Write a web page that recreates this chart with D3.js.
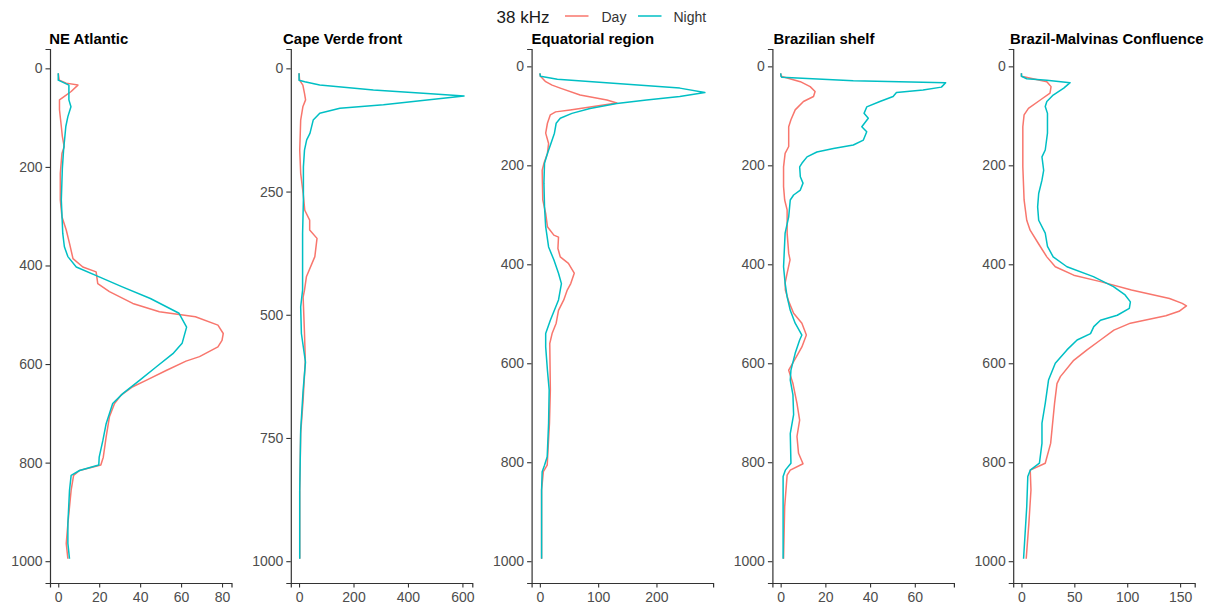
<!DOCTYPE html>
<html>
<head>
<meta charset="utf-8">
<script src="https://cdn.jsdelivr.net/npm/d3@7"></script>
<style>
  body { margin: 0; background: #fff; }
  text { font-family: "Liberation Sans", Arial, sans-serif; }
</style>
</head>
<body>
<div id="graph"></div>
<script>
// panel names, in order
var regions = ["NE Atlantic", "Cape Verde front", "Equatorial region", "Brazilian shelf", "Brazil-Malvinas Confluence"];

// tick labels for each panel
var xTicks = [[0, 20, 40, 60, 80], [0, 200, 400, 600], [0, 100, 200], [0, 20, 40, 60], [0, 50, 100, 150]];
var yTicks = [
  [0, 200, 400, 600, 800, 1000],
  [0, 250, 500, 750, 1000],
  [0, 200, 400, 600, 800, 1000],
  [0, 200, 400, 600, 800, 1000],
  [0, 200, 400, 600, 800, 1000]
];

// profiles as [depth, value]
var neAtlanticDay = [[10,0],[24,0.5],[30,3.9],[34,9.6],[47,6.3],[57,3],[64,0.6],[84,0.6],[118,1.5],[138,2],[159,2.9],[173,1.8],[213,1],[267,1],[301,1.8],[328,3.9],[355,5.5],[386,7.2],[403,12],[413,18.5],[437,19.3],[453,25],[477,36.4],[494,49.4],[504,67],[521,78],[538,80.6],[552,80],[565,78],[585,69],[594,62.4],[613,52.7],[633,42.9],[646,36.4],[663,30.7],[680,27.5],[707,25],[748,23.4],[789,22],[805,20.8],[816,10.4],[826,7.5],[856,6.3],[924,4.7],[964,3.9],[995,4.7]];
var neAtlanticNight = [[10,0],[24,0],[34,5.2],[64,5.2],[78,6.2],[98,4.7],[118,3.7],[166,2.6],[203,2],[267,1.5],[335,2.2],[362,3],[382,4.7],[403,8.8],[423,20],[443,31],[467,45],[497,59],[525,62.7],[558,60.5],[579,56],[606,47.8],[633,39.7],[660,31.5],[680,26.6],[721,23.4],[755,21.8],[789,20],[805,19.8],[816,10.4],[826,6.3],[856,5.5],[924,4.7],[964,4.7],[995,5.5]];

var capeVerdeDay = [[10,0],[24,2],[34,14],[51,20],[64,24],[78,14],[105,6],[166,2.5],[213,6],[253,15],[288,21],[308,39],[328,39],[345,66],[382,58],[423,27],[450,20],[464,15],[538,20],[592,23],[673,15],[741,6],[856,2.5],[995,2.5]];
var capeVerdeNight = [[10,0],[24,0],[27,21],[34,76],[44,273],[51,470],[56,606],[64,470],[74,310],[81,150],[91,76],[105,52],[132,40],[145,28],[166,20],[200,16],[267,16],[335,13],[450,13],[484,6],[538,8.6],[596,23.6],[653,15],[734,6],[856,2.5],[995,2.5]];

var equatorialDay = [[14,0],[20,1],[31,10],[38,21],[44,35],[58,69],[68,115],[74,132],[81,92],[88,52],[92,27],[98,18],[115,13],[135,10],[156,15],[176,13],[196,7],[210,4],[270,5],[297,10],[324,13],[341,24],[345,32],[368,31],[385,35],[398,49],[418,59],[439,53],[452,47],[472,41],[493,32],[519,28],[540,21],[560,17],[654,18],[721,16.5],[806,12.6],[819,6],[856,3],[995,3]];
var equatorialNight = [[14,0],[20,1],[26,30],[34,126],[44,240],[53,283],[61,240],[68,183],[75,132],[85,86],[95,55],[105,35],[115,28],[135,25],[156,19],[176,13],[196,8],[236,7],[284,8],[324,10],[365,15],[391,24],[418,32],[439,37],[452,35],[472,32],[513,18],[540,10],[567,10],[614,13],[654,16],[721,15],[789,12.6],[806,8],[819,4],[856,3],[995,3]];

var brShelfDay = [[14,0],[20,0.2],[31,8.8],[41,13.2],[51,15.4],[61,14.7],[71,10.2],[88,6.5],[108,4.6],[122,3.6],[142,3.6],[162,3.6],[176,2],[203,1.3],[243,1.3],[270,1.8],[290,2.9],[337,2.9],[378,3.6],[391,4.2],[418,2.9],[438,2],[452,2.1],[475,3.6],[499,5.8],[519,9.5],[543,11.5],[567,9.5],[587,7],[614,3.6],[641,5.5],[681,7.3],[715,8.5],[748,7.3],[782,8],[803,10],[816,4.3],[826,2.9],[890,1.8],[995,1.3]];
var brShelfNight = [[14,0],[20,0.2],[22,0.5],[29,32.5],[33,73.8],[42,71.9],[48,63.7],[53,51.8],[61,50.3],[71,44.4],[82,38.5],[95,37.3],[105,39.2],[122,36.3],[132,38.5],[149,37],[159,32.5],[166,23.6],[173,16.2],[183,11.8],[196,9.5],[203,8.5],[223,8.8],[236,10],[250,8.8],[260,5.8],[270,4.3],[304,3.6],[337,2],[405,1.3],[438,2],[466,2.9],[493,4.3],[519,6.5],[543,9.5],[553,8.5],[580,6.5],[614,4.6],[634,4.3],[664,5.5],[704,5.8],[742,4.3],[802,4.6],[816,2.1],[829,1.1],[995,1.1]];

var bmcDay = [[14,0],[20,0],[31,24],[41,28],[54,27],[68,17.8],[85,6.6],[98,2.5],[122,1.3],[203,1.3],[270,2.5],[311,5],[331,8.2],[358,16],[385,24],[405,32],[422,49.4],[435,74.7],[452,104],[469,140],[479,152],[484,156],[495,149],[504,136.5],[519,103],[533,87.4],[553,74.7],[573,62],[594,49.4],[627,36.8],[641,33.6],[681,31.3],[762,27.6],[802,22.5],[816,8.3],[856,9],[924,7],[995,4.5]];
var bmcNight = [[14,0],[20,0],[25,5],[28,24],[33,46],[44,40],[58,30],[71,24],[81,22.5],[95,24.6],[135,24.6],[169,22.5],[183,19.4],[210,21],[230,19.4],[257,16.3],[284,15.3],[311,16.3],[337,22.5],[364,24.6],[385,30],[405,43],[425,68],[445,87],[462,98],[476,103],[489,102],[503,90.6],[513,74.7],[526,68.4],[540,65.3],[553,52.6],[573,43],[600,32],[634,25.6],[681,22.5],[721,19.4],[762,19.4],[802,17],[816,8.3],[829,6],[890,5],[995,2]];

var dayProfiles = [neAtlanticDay, capeVerdeDay, equatorialDay, brShelfDay, bmcDay];
var nightProfiles = [neAtlanticNight, capeVerdeNight, equatorialNight, brShelfNight, bmcNight];

var series = ["Day", "Night"];
var colors = ["#F8766D", "#00BFC4"];

// layout
var width = 1211, height = 605;
var panelTop = 49, panelBottom = 583;
var panelW = 181.5, panelStep = 240.8, firstLeft = 50;
var titleShift = [-0.7, -7.7, 0, 1, -3.3];

var svg = d3.select("#graph")
  .append("svg")
    .attr("width", width)
    .attr("height", height);

// ggplot-like 5% expansion of the data range
function expand(ext) {
  var pad = (ext[1] - ext[0]) * 0.05;
  return [ext[0] - pad, ext[1] + pad];
}

function styleAxis(g) {
  g.select(".domain").attr("stroke", "#333").attr("stroke-width", 1.2);
  g.selectAll(".tick line").attr("stroke", "#333").attr("stroke-width", 1.1);
  g.selectAll(".tick text")
    .attr("fill", "#4D4D4D")
    .style("font-size", "14px")
    .style("font-family", "'Liberation Sans', Arial, sans-serif");
}

regions.forEach(function(name, i) {
  var left = firstLeft + i * panelStep;
  var all = dayProfiles[i].concat(nightProfiles[i]);

  var x = d3.scaleLinear()
    .domain(expand(d3.extent(all, function(d) { return d[1]; })))
    .range([left, left + panelW]);
  var y = d3.scaleLinear()
    .domain(expand(d3.extent(all, function(d) { return d[0]; })))
    .range([panelTop, panelBottom]);

  // y axis
  svg.append("g")
    .attr("transform", "translate(" + left + ",0)")
    .call(d3.axisLeft(y).tickValues(yTicks[i]).tickFormat(d3.format("d"))
      .tickSizeOuter(0).tickSize(4.5).tickPadding(3))
    .call(styleAxis);

  // x axis
  svg.append("g")
    .attr("transform", "translate(0," + panelBottom + ")")
    .call(d3.axisBottom(x).tickValues(xTicks[i]).tickFormat(d3.format("d"))
      .tickSizeOuter(0).tickSize(4.5).tickPadding(4.5))
    .call(styleAxis);

  // lines
  [dayProfiles[i], nightProfiles[i]].forEach(function(data, k) {
    svg.append("path")
      .datum(data)
      .attr("fill", "none")
      .attr("stroke", colors[k])
      .attr("stroke-width", 1.5)
      .attr("stroke-linejoin", "round")
      .attr("d", d3.line()
        .x(function(d) { return x(d[1]); })
        .y(function(d) { return y(d[0]); }));
  });

  // panel title
  svg.append("text")
    .attr("x", left + titleShift[i])
    .attr("y", 44)
    .attr("fill", "#000")
    .style("font-size", "14.9px")
    .style("font-weight", "bold")
    .text(name);
});

// legend
var legend = svg.append("g");
legend.append("text")
  .attr("x", 496.5)
  .attr("y", 23)
  .attr("fill", "#1a1a1a")
  .style("font-size", "17px")
  .text("38 kHz");

var keyX = [565, 638];
var labelX = [601.5, 673.5];
series.forEach(function(s, k) {
  legend.append("line")
    .attr("x1", keyX[k]).attr("x2", keyX[k] + 23.5)
    .attr("y1", 16).attr("y2", 16)
    .attr("stroke", colors[k])
    .attr("stroke-width", 1.5);
  legend.append("text")
    .attr("x", labelX[k])
    .attr("y", 21.5)
    .attr("fill", "#333")
    .style("font-size", "14px")
    .text(s);
});
</script>
</body>
</html>
